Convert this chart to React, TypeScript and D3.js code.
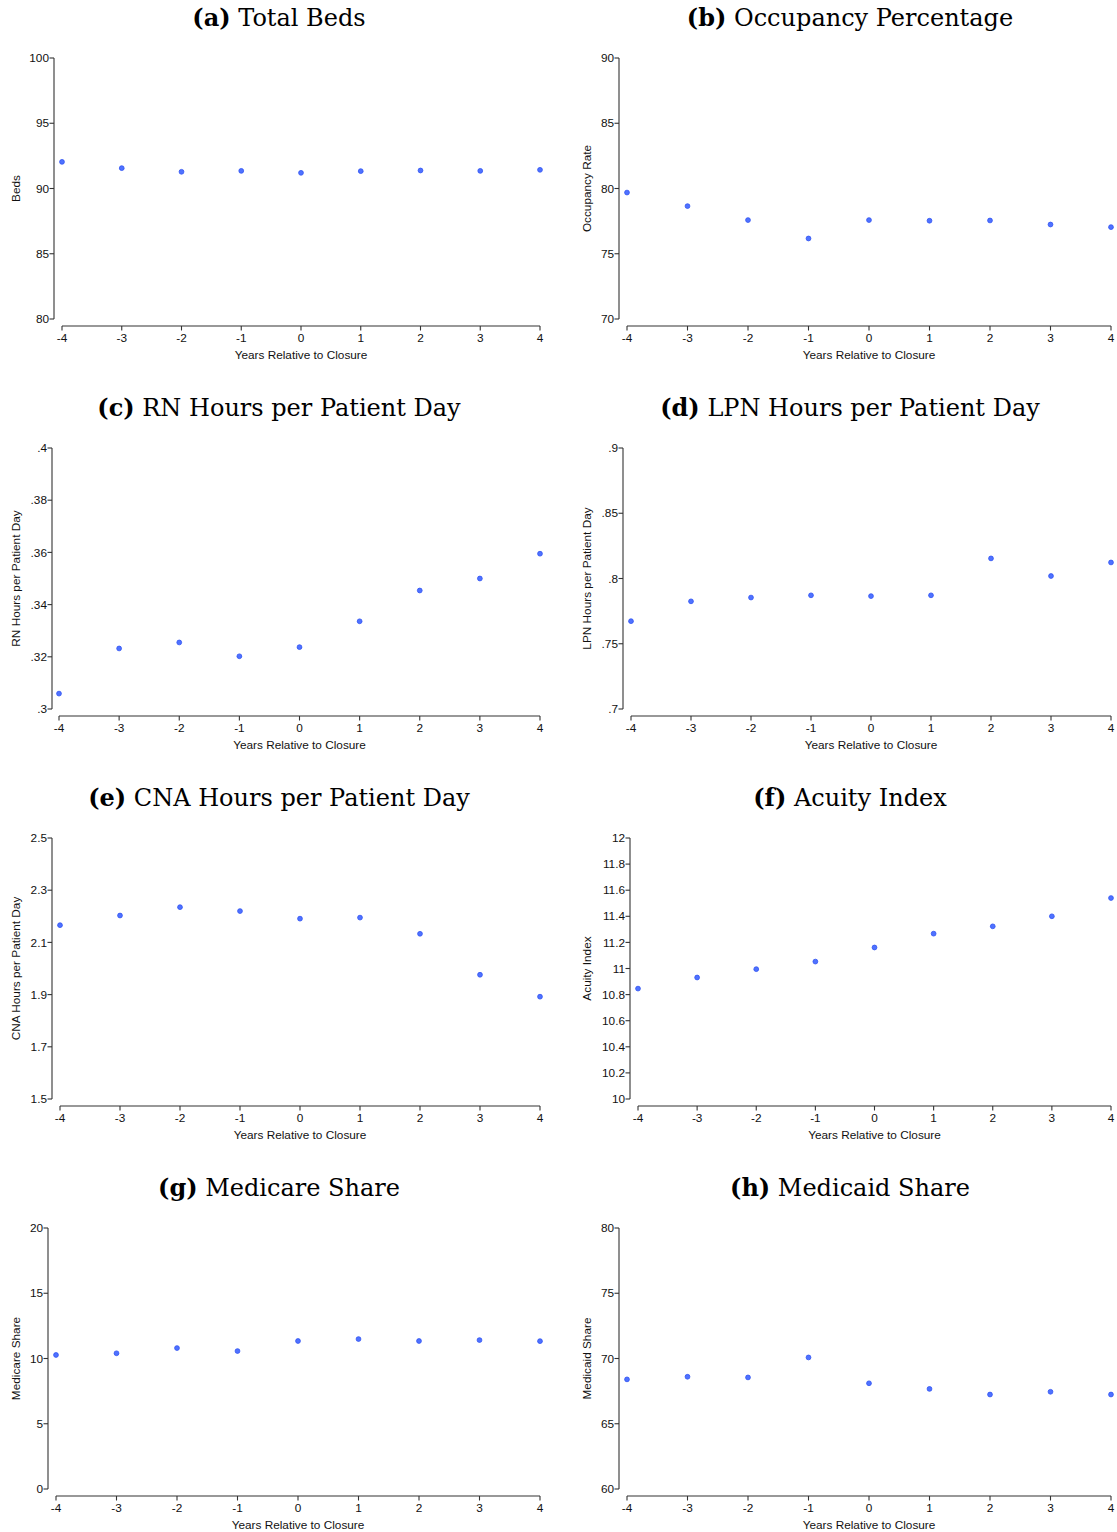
import React, { useEffect } from "react";
import * as d3 from "d3";

const years = [-4, -3, -2, -1, 0, 1, 2, 3, 4];

const totalBeds = [92.04, 91.56, 91.28, 91.35, 91.2, 91.33, 91.38, 91.35, 91.43];
const occupancy = [79.69, 78.65, 77.58, 76.17, 77.58, 77.53, 77.55, 77.24, 77.04];
const rnHours = [0.3059, 0.3232, 0.3255, 0.3202, 0.3237, 0.3336, 0.3454, 0.35, 0.3595];
const lpnHours = [0.7673, 0.7825, 0.7854, 0.7871, 0.7865, 0.7871, 0.8154, 0.8019, 0.8123];
const cnaHours = [2.166, 2.203, 2.235, 2.22, 2.191, 2.195, 2.133, 1.976, 1.892];
const acuity = [10.846, 10.931, 10.995, 11.053, 11.161, 11.267, 11.323, 11.4, 11.54];
const medicare = [10.27, 10.4, 10.8, 10.57, 11.34, 11.49, 11.34, 11.41, 11.33];
const medicaid = [68.4, 68.6, 68.55, 70.08, 68.1, 67.67, 67.24, 67.45, 67.24];

const bedsTicks = [80, 85, 90, 95, 100];
const occTicks = [70, 75, 80, 85, 90];
const rnTicks = [0.3, 0.32, 0.34, 0.36, 0.38, 0.4];
const lpnTicks = [0.7, 0.75, 0.8, 0.85, 0.9];
const cnaTicks = [1.5, 1.7, 1.9, 2.1, 2.3, 2.5];
const acuityTicks = [10, 10.2, 10.4, 10.6, 10.8, 11, 11.2, 11.4, 11.6, 11.8, 12];
const medicareTicks = [0, 5, 10, 15, 20];
const medicaidTicks = [60, 65, 70, 75, 80];

const panelLetters = ["(a)", "(b)", "(c)", "(d)", "(e)", "(f)", "(g)", "(h)"];
const panelTitles = [
  "Total Beds",
  "Occupancy Percentage",
  "RN Hours per Patient Day",
  "LPN Hours per Patient Day",
  "CNA Hours per Patient Day",
  "Acuity Index",
  "Medicare Share",
  "Medicaid Share",
];
const yLabels = [
  "Beds",
  "Occupancy Rate",
  "RN Hours per Patient Day",
  "LPN Hours per Patient Day",
  "CNA Hours per Patient Day",
  "Acuity Index",
  "Medicare Share",
  "Medicaid Share",
];
const xLabel = "Years Relative to Closure";

const seriesList = [totalBeds, occupancy, rnHours, lpnHours, cnaHours, acuity, medicare, medicaid];
const tickList = [bedsTicks, occTicks, rnTicks, lpnTicks, cnaTicks, acuityTicks, medicareTicks, medicaidTicks];

// layout (per panel, relative to panel origin)
const axisXs = [54, 48, 52, 52, 52, 59, 48, 48];
const xStarts = [62, 56, 59, 60, 60, 67, 56, 56];

const fmt = (v: number) => {
  const s = String(+v.toFixed(3));
  return s.replace(/^0\./, ".");
};

const SANS = "Liberation Sans, Arial, Helvetica, sans-serif";
const SERIF = "DejaVu Serif, serif";
const AXIS = "#333";
const FS = 11.8;

function Panel({ i }: { i: number }) {
  const col = i % 2;
  const row = Math.floor(i / 2);
  const ox = col * 571;
  const oy = row * 390;
  const ticks = tickList[i];
  const data = seriesList[i];
  const axX = axisXs[i];
  const y = d3
    .scaleLinear()
    .domain([ticks[0], ticks[ticks.length - 1]])
    .range([319, 58]);
  const x = d3.scaleLinear().domain([-4, 4]).range([xStarts[i], 540]);
  const xAxisY = 326;
  const yMid = (58 + 319) / 2;
  return (
    <g transform={`translate(${ox},${oy})`}>
      <text x={279} y={26} textAnchor="middle" fontFamily={SERIF} fontSize={24} fill="#000">
        <tspan fontWeight="bold">{panelLetters[i]}</tspan>
        <tspan> {panelTitles[i]}</tspan>
      </text>
      {/* y axis */}
      <line x1={axX} x2={axX} y1={y(ticks[0])} y2={y(ticks[ticks.length - 1])} stroke={AXIS} strokeWidth={1.1} />
      {ticks.map((t) => (
        <g key={t}>
          <line x1={axX - 4.5} x2={axX} y1={y(t)} y2={y(t)} stroke={AXIS} strokeWidth={1.1} />
          <text x={axX - 5} y={y(t)} dy="0.35em" textAnchor="end" fontFamily={SANS} fontSize={FS} fill="#111">
            {fmt(t)}
          </text>
        </g>
      ))}
      <text
        transform={`translate(${20},${yMid}) rotate(-90)`}
        textAnchor="middle"
        fontFamily={SANS}
        fontSize={FS}
        fill="#111"
      >
        {yLabels[i]}
      </text>
      {/* x axis */}
      <line x1={x(-4)} x2={x(4)} y1={xAxisY} y2={xAxisY} stroke={AXIS} strokeWidth={1.1} />
      {years.map((yr) => (
        <g key={yr}>
          <line x1={x(yr)} x2={x(yr)} y1={xAxisY} y2={xAxisY + 4.5} stroke={AXIS} strokeWidth={1.1} />
          <text x={x(yr)} y={xAxisY + 15.5} textAnchor="middle" fontFamily={SANS} fontSize={FS} fill="#111">
            {yr}
          </text>
        </g>
      ))}
      <text x={(x(-4) + x(4)) / 2} y={358.5} textAnchor="middle" fontFamily={SANS} fontSize={FS} fill="#111">
        {xLabel}
      </text>
      {data.map((v, k) => (
        <circle key={k} cx={x(years[k])} cy={y(v)} r={2.4} fill="#4f72ff" stroke="#2f52f2" strokeWidth={0.8} />
      ))}
    </g>
  );
}

export default function App() {
  useEffect(() => {
    document.body.style.margin = "0";
  }, []);
  return (
    <svg
      width={1117}
      height={1532}
      style={{ position: "absolute", left: 0, top: 0, background: "#fff" }}
      xmlns="http://www.w3.org/2000/svg"
    >
      <rect x={0} y={0} width={1117} height={1532} fill="#fff" />
      {seriesList.map((_, i) => (
        <Panel key={i} i={i} />
      ))}
    </svg>
  );
}
